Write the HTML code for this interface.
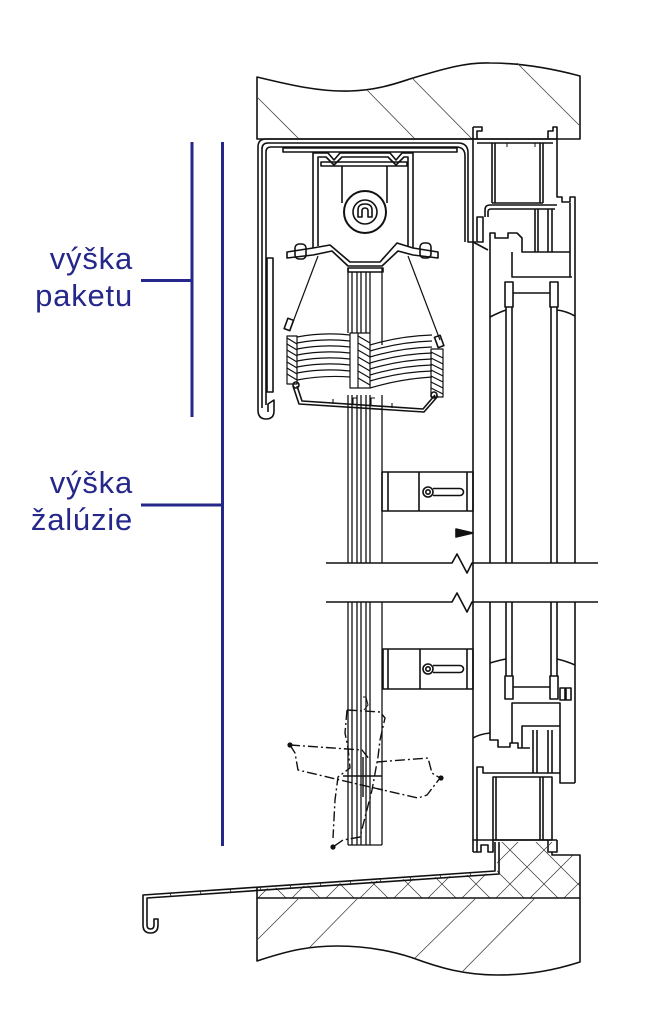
<!DOCTYPE html>
<html><head><meta charset="utf-8"><style>
html,body{margin:0;padding:0;background:#fff;}
svg{display:block;}
</style></head><body>
<svg width="654" height="1024" viewBox="0 0 654 1024" xmlns="http://www.w3.org/2000/svg">
<defs>
<pattern id="xh" patternUnits="userSpaceOnUse" width="34" height="34">
<path d="M0,0 L34,34 M34,0 L0,34" stroke="#333" stroke-width="0.7" fill="none"/>
</pattern>
</defs>
<rect width="654" height="1024" fill="#fff"/>

<!-- blue dimension lines -->
<g stroke="#25278a" stroke-width="3" fill="none">
<line x1="192" y1="142" x2="192" y2="417"/>
<line x1="222.5" y1="142" x2="222.5" y2="846"/>
<line x1="141" y1="280.5" x2="192" y2="280.5"/>
<line x1="141" y1="505" x2="222.5" y2="505"/>
</g>
<g fill="#25278a" font-family="Liberation Sans, sans-serif" font-size="31" letter-spacing="0.8" text-anchor="end">
<text x="133" y="269">výška</text>
<text x="133" y="306">paketu</text>
<text x="133" y="493">výška</text>
<text x="133" y="530">žalúzie</text>
</g>

<g stroke="#111" stroke-width="1.6" fill="none" stroke-linejoin="round">
<!-- top wall -->
<path d="M257,139 L257,77 C290,85 320,92 350,91 C380,90 400,82 413,78 C440,70 465,62 490,63 C520,63 550,68 580,76 L580,139 Z"/>
<g stroke-width="0.8" stroke="#444">
<line x1="257" y1="97" x2="299" y2="139"/>
<line x1="367" y1="90" x2="415" y2="139"/>
<line x1="413" y1="79" x2="472" y2="139"/>
<line x1="517" y1="63" x2="580" y2="126"/>
</g>

<!-- cassette -->
<path d="M258,410 L258,147 Q258,139 266,139 L473,139"/>
<path d="M262,408 L262,149 Q262,143 268,143 L458,143 Q468,143 468,153 L468,242 L476,242"/>
<path d="M266,405 L266,152 Q266,147 271,147 L456,147 Q465,147 465,156 L465,242"/>
<rect x="283" y="148" width="174" height="4"/>
<path d="M258,410 Q258,419 266,419 Q274,419 274,411 L274,400 L268,404 L268,412"/>
<rect x="267" y="258" width="6" height="134"/>
<!-- head rail -->
<path d="M313,248 L313,153 L328,153 L334,160 L340,153 L390,153 L396,160 L402,153 L413,153 L413,248"/>
<path d="M318,246 L318,157 L326,157 L334,165 L342,157 L388,157 L396,165 L404,157 L408,157 L408,246"/>
<rect x="321" y="162" width="86" height="4"/>
<line x1="342" y1="166" x2="342" y2="203"/>
<line x1="387" y1="166" x2="387" y2="203"/>
<circle cx="365" cy="212" r="21" stroke-width="2"/>
<circle cx="365" cy="212" r="12"/>
<path d="M358,217 L358,210 Q358,204 365,204 Q372,204 372,210 L372,217 L368,217 L368,211 Q368,208 365,208 Q362,208 362,211 L362,217 Z"/>
<path d="M287,252 L313,248 L330,245 L350,262 L380,262 L397,243 L413,248 L438,252 L438,258 L413,255 L398,251 L382,266 L348,266 L332,251 L313,255 L287,258 Z"/>
<rect x="295" y="244" width="11" height="15" rx="4"/>
<rect x="420" y="243" width="11" height="15" rx="4"/>
<!-- ladder cords -->
<line x1="318" y1="256" x2="293" y2="322" stroke-width="1.2"/>
<line x1="408" y1="256" x2="440" y2="340" stroke-width="1.2"/>
<rect x="286" y="319" width="6" height="11" transform="rotate(20 289 324)"/>
<rect x="436" y="336" width="6" height="11" transform="rotate(-20 439 341)"/>

<!-- guide rail -->
<rect x="348" y="268" width="35" height="4"/>
<g stroke-width="1.3">
<path d="M348,268 V333 M352,272 V333 M357,272 V333 M361,272 V333 M366,272 V333 M370,272 V333 M382,268 V345"/>
<path d="M348,395 V563 M352,395 V563 M357,395 V563 M361,395 V563 M366,395 V563 M370,395 V563 M382,395 V563"/>
<path d="M348,602 V845 M352,602 V845 M357,602 V845 M361,602 V845 M366,602 V845 M370,602 V845 M382,602 V845 M348,845 H382"/>
</g>
<path d="M363,697 L366,697 L368,705 L364,710" stroke-width="1"/>

<!-- slats -->
<g stroke-width="1.2">
<rect x="287" y="336" width="10" height="48"/>
<path d="M287,338 L297,344 M287,344 L297,350 M287,350 L297,356 M287,356 L297,362 M287,362 L297,368 M287,368 L297,374 M287,374 L297,380"/>
<path d="M297,337 Q323,332 350,335 M297,343 Q323,338 350,341 M297,349 Q323,344 350,347 M297,355 Q323,350 350,353 M297,361 Q323,356 350,359 M297,367 Q323,362 350,365 M297,373 Q323,368 350,371 M297,380 Q323,375 350,377"/>
<rect x="350" y="333" width="20" height="55"/>
<line x1="358" y1="333" x2="358" y2="388"/>
<path d="M358,336 L370,343 M358,343 L370,350 M358,350 L370,357 M358,357 L370,364 M358,364 L370,371 M358,371 L370,378 M358,378 L370,385"/>
<path d="M370,345 Q400,336 432,335 M370,351 Q400,342 432,341 M370,357 Q400,348 432,347 M370,363 Q400,354 432,353 M370,369 Q400,360 432,359 M370,375 Q400,366 432,365 M370,381 Q400,372 432,371 M370,388 Q400,379 432,377"/>
<rect x="431" y="349" width="12" height="48"/>
<path d="M431,352 L443,358 M431,358 L443,364 M431,364 L443,370 M431,370 L443,376 M431,376 L443,382 M431,382 L443,388 M431,388 L443,394"/>
</g>
<!-- bottom rail -->
<path d="M293,386 L299,404 L424,412 L438,396"/>
<path d="M297,386 L302,401 L423,409 L435,395"/>
<circle cx="296" cy="385" r="3"/>
<circle cx="434" cy="395" r="3"/>
<path d="M333,404 V399 M353,405 V398 L357,398 M371,406 V398 L375,398 M392,408 V403" stroke-width="1.1"/>

<!-- brackets -->
<rect x="382" y="472" width="91" height="39"/>
<path d="M388,472 V511 M419,472 V511 M467,472 V511"/>
<circle cx="428" cy="492" r="5"/>
<circle cx="428" cy="492" r="2.2"/>
<path d="M433,488.5 L460,488.5 A3.5,3.5 0 0 1 460,495.5 L433,495.5"/>
<rect x="383" y="649" width="90" height="40"/>
<path d="M388,649 V689 M420,649 V689 M467,649 V689"/>
<circle cx="428" cy="669" r="5"/>
<circle cx="428" cy="669" r="2.2"/>
<path d="M433,665.5 L460,665.5 A3.5,3.5 0 0 1 460,672.5 L433,672.5"/>
<polygon points="456,529 473,533 456,537" fill="#111"/>

<!-- break lines -->
<path d="M326,563 L452,563 L457,554 L467,573 L472,563 L598,563"/>
<path d="M326,602 L452,602 L457,593 L467,612 L472,602 L598,602"/>

<!-- window frame: upper -->
<line x1="473" y1="127" x2="473" y2="852"/>
<path d="M473,127 L482,127 L482,131 L477,131 L477,139"/>
<path d="M548,139 L548,131 L553,131 L553,127 L557,127 L557,139"/>
<path d="M473,139 L557,139 M477,143 L553,143"/>
<path d="M492,143 V203 M495,143 V203 M540,143 V203 M543,143 V203 M492,203 H543"/>
<path d="M507,143 V147 M535,143 V147" stroke-width="1"/>
<path d="M557,139 L557,197 L562,197 L562,202 L570,202 L570,197 L575,197 L575,563"/>
<path d="M485,217 L485,210 Q485,205 490,205 L557,205"/>
<path d="M488,217 L488,212 Q488,209 491,209 L555,209"/>
<rect x="477" y="217" width="6" height="25"/>
<path d="M473,242 L488,250"/>
<path d="M490,563 L490,233 L495,233 L495,238 L508,238 L508,233 L517,233 L522,238 L522,252 L570,252"/>
<path d="M535,209 V252 M538,209 V252 M548,209 V252 M552,209 V252"/>
<path d="M570,203 V277 M512,252 V277 L572,277"/>
<rect x="505" y="282" width="8" height="25"/>
<rect x="550" y="282" width="8" height="25"/>
<path d="M513,293 H550"/>
<path d="M490,317 Q500,312 506,310 M557,310 Q566,311 575,316"/>
<path d="M506,307 V563 M512,307 V563 M551,307 V563 M557,307 V563"/>

<!-- window frame: lower -->
<path d="M506,602 V676 M512,602 V676 M551,602 V676 M557,602 V676 M490,602 V733 M575,602 V783"/>
<path d="M490,663 Q500,660 506,659 M557,659 Q566,661 575,665"/>
<rect x="505" y="676" width="8" height="23"/>
<rect x="550" y="676" width="8" height="23"/>
<path d="M513,687 H550"/>
<rect x="560" y="688" width="5" height="12"/>
<rect x="566" y="688" width="5" height="12"/>
<path d="M512,743 L512,703 L560,703 L560,783 L575,783"/>
<path d="M522,748 L522,726 L560,726"/>
<path d="M533,730 V773 M537,730 V773 M548,730 V773 M552,730 V773"/>
<path d="M473,738 Q480,734 490,733 L490,740 L498,740 L498,747 L510,747 L510,743 L518,743 L518,748 L530,748"/>
<path d="M477,852 L477,767 L483,767 L483,773 L560,773"/>
<rect x="493" y="777" width="59" height="63"/>
<path d="M496,777 V840 M540,777 V840 M543,777 V840"/>
<path d="M473,840 L557,840 M473,852 L481,852 L481,845 L488,845 L488,852 L493,852 L493,840 M548,840 L548,852 L557,852 L557,840"/>

<!-- dashed tilted slats -->
<g stroke-dasharray="10 3 2 3" stroke-width="1.4">
<path d="M347,710 L380,712 L385,718 L380,740 L378,757 L372,790 L360,837 L343,840 L333,847"/>
<path d="M347,710 L345,733 L348,748 L350,768 L338,777 L335,800 L333,838"/>
<path d="M290,745 L362,750 L370,760"/>
<path d="M290,745 L295,753 L298,770 L340,780 L383,790"/>
<path d="M377,762 L428,758 L432,773 L440,778 L427,795 L418,798 L370,787"/>
</g>
<path d="M363,757 V797 M343,776 H382" stroke-width="1.4"/>
<circle cx="290" cy="745" r="1.8" fill="#111"/>
<circle cx="441" cy="778" r="1.8" fill="#111"/>
<circle cx="333" cy="847" r="1.8" fill="#111"/>

<!-- sill insulation -->
<path d="M257,889 L497,873 L497,842 L552,842 L552,855 L580,855 L580,898 L257,898 Z" fill="url(#xh)" stroke="none"/>
<path d="M552,852 L552,855 L580,855 L580,898 M257,898 L580,898"/>
<!-- sill -->
<path d="M143,925 L143,895 L495,871 L495,842"/>
<path d="M147,925 L147,898 L499,874 L499,842"/>
<path d="M143,925 Q143,933 150.5,933 Q158,933 158,925 L158,919 L154,919 L154,925 Q154,929 150.5,929 Q147,929 147,925"/>
<g stroke-width="0.7">
<path d="M170,893 L171,896 M200,891 L201,894 M230,889 L231,892 M260,887 L261,890 M290,885 L291,888 M320,883 L321,886 M350,881 L351,884 M380,879 L381,882 M410,877 L411,880 M440,875 L441,878 M470,873 L471,876"/>
</g>
<!-- bottom wall -->
<path d="M257,887 L257,961 C290,950 310,946 337,946 C370,946 395,952 413,958 C440,968 465,975 497,975 C530,975 555,970 580,962 L580,898"/>
<g stroke-width="0.8" stroke="#444">
<line x1="257" y1="940" x2="299" y2="898"/>
<line x1="310" y1="947" x2="358" y2="898"/>
<line x1="415" y1="958" x2="476" y2="898"/>
<line x1="462" y1="972" x2="535" y2="898"/>
</g>
</g>
</svg>
</body></html>
